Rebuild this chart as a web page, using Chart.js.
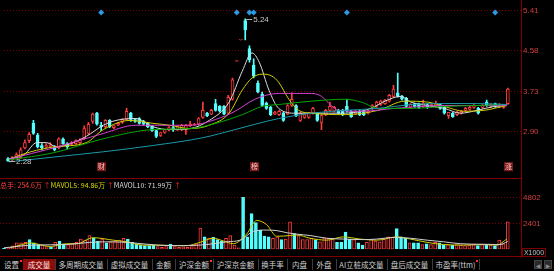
<!DOCTYPE html>
<html>
<head>
<meta charset="utf-8">
<script src="https://cdn.jsdelivr.net/npm/chart.js@4.4.1/dist/chart.umd.min.js"></script>
<style>
  html, body { margin: 0; padding: 0; background: #000; }
  body { width: 554px; height: 271px; position: relative; overflow: hidden; font-family: "Noto Sans CJK SC", "Liberation Sans", sans-serif; }
  canvas { position: absolute; left: 0; }
  .line { position: absolute; background: #800000; }
  #volHead { position: absolute; left: 0; top: 180px; font-size: 7px; line-height: 10px; white-space: nowrap; }
  #tabs { position: absolute; left: 0; top: 258px; width: 554px; height: 13px; background: #000; }
  .tab { position: absolute; top: 0; height: 13px; line-height: 13px; font-size: 7.5px; color: #d2d2d2; text-align: center; white-space: nowrap; }
  .tab.on { background: #8c0c0c; color: #ffe0e0; top: 1px; height: 11px; line-height: 11px; }
  .sep { position: absolute; top: 1px; width: 1px; height: 11px; background: #3c3c3c; }
  .dot { position: absolute; top: 2px; width: 2px; height: 2px; background: #ff3030; }
  .btn { position: absolute; top: 2px; width: 8px; height: 9px; background: #2a2a2a; border: 1px solid #444; color: #888; font: 6px "DejaVu Sans"; line-height: 9px; text-align: center; box-sizing: border-box; }
  #unit { position: absolute; left: 522px; top: 248px; width: 24px; height: 9px; border: 1px solid #800000; box-sizing: border-box; color: #c0c0c0; font: 7px "Liberation Sans"; line-height: 7px; text-align: center; }
</style>
</head>
<body>
<canvas id="priceChart" width="554" height="178" style="top:0"></canvas>
<canvas id="volChart" width="554" height="76" style="top:180px"></canvas>
<div class="line" style="left:0;top:178px;width:522px;height:1px"></div>
<div class="line" style="left:0;top:256px;width:522px;height:1px"></div>
<div class="line" style="left:521px;top:0;width:1px;height:258px"></div>
<div id="volHead"></div>
<div id="unit">X1000</div>
<div id="tabs"></div>
<script>
// daily candles, price in yuan
const open = [2.34,2.31,2.34,2.36,2.56,2.71,3.07,2.82,2.61,2.58, 2.59,2.59,2.56,2.75,2.65,2.63,2.65,2.67,2.75,2.86,
  3.11,3.28,3.03,3.00,3.13,2.98,3.03,3.09,3.15,3.28, 3.15,3.17,3.11,3.07,3.02,2.92,2.82,2.88,2.94,2.98,
  2.94,2.94,2.94,3.02,3.03,3.05,3.19,3.28,3.26,3.48, 3.42,3.42,3.28,3.57,4.36,4.80,5.20,4.62,4.28,3.90,
  3.67,3.49,3.40,3.26,3.25,3.28,3.26,3.44,3.44,3.13, 3.19,3.19,3.28,3.28,3.09,3.25,3.34,3.32,3.34,3.34,
  3.42,3.32,3.26,3.32,3.32,3.28,3.38,3.42,3.46,3.48, 3.53,3.63,3.70,3.63,3.59,3.40,3.48,3.48,3.42,3.46,
  3.42,3.42,3.46,3.40,3.23,3.28,3.25,3.28,3.34,3.36, 3.40,3.38,3.40,3.51,3.42,3.48,3.42,3.40,3.48];
const high = [2.36,2.38,2.46,2.56,2.73,2.88,3.13,2.86,2.65,2.65, 2.67,2.61,2.77,2.77,2.67,2.69,2.73,2.75,3.02,3.09,
  3.28,3.30,3.09,3.15,3.15,3.03,3.09,3.17,3.38,3.30, 3.17,3.19,3.13,3.09,3.03,2.94,2.88,2.94,3.00,3.13,
  3.02,3.05,3.05,3.11,3.07,3.19,3.51,3.30,3.36,3.57, 3.44,3.44,3.65,4.01,4.37,4.81,5.24,4.68,4.41,3.95,
  3.72,3.51,3.42,3.32,3.34,3.30,3.46,3.70,3.46,3.30, 3.26,3.30,3.40,3.30,3.25,3.36,3.51,3.42,3.36,3.36,
  3.57,3.34,3.34,3.34,3.34,3.34,3.46,3.53,3.55,3.57, 3.67,3.86,4.11,3.65,3.61,3.48,3.49,3.49,3.55,3.48,
  3.48,3.53,3.48,3.42,3.30,3.30,3.32,3.34,3.40,3.42, 3.46,3.40,3.46,3.55,3.48,3.49,3.48,3.46,3.80];
const low = [2.28,2.29,2.33,2.34,2.54,2.67,2.84,2.56,2.52,2.56, 2.58,2.50,2.54,2.63,2.54,2.61,2.63,2.65,2.73,2.84,
  3.07,3.03,2.92,2.98,2.98,2.96,3.02,3.07,3.13,3.11, 3.09,3.05,3.03,2.98,2.90,2.77,2.80,2.86,2.92,2.90,
  2.92,2.92,2.84,3.00,3.02,3.03,3.17,3.21,3.25,3.32, 3.30,3.25,3.26,3.55,4.36,4.80,4.80,4.34,4.01,3.70,
  3.42,3.36,3.23,3.25,3.23,3.11,3.25,3.42,3.21,3.11, 3.17,3.17,3.26,3.11,2.94,3.23,3.32,3.30,3.26,3.23,
  3.30,3.19,3.25,3.23,3.23,3.26,3.36,3.40,3.44,3.46, 3.51,3.61,3.61,3.55,3.40,3.38,3.40,3.38,3.40,3.38,
  3.40,3.40,3.36,3.26,3.17,3.19,3.23,3.26,3.32,3.34, 3.38,3.26,3.38,3.42,3.40,3.40,3.40,3.38,3.46];
const close = [2.29,2.36,2.42,2.52,2.67,2.84,2.86,2.58,2.56,2.61, 2.63,2.52,2.75,2.65,2.58,2.67,2.71,2.73,2.96,3.05,
  3.26,3.05,3.00,3.13,3.00,3.02,3.07,3.15,3.32,3.15, 3.11,3.07,3.05,3.00,2.92,2.80,2.88,2.94,2.98,2.94,
  3.00,3.03,3.03,3.05,3.05,3.17,3.34,3.23,3.34,3.34, 3.32,3.26,3.61,3.97,4.37,4.81,5.01,4.39,4.05,3.72,
  3.44,3.38,3.25,3.30,3.32,3.13,3.44,3.57,3.23,3.28, 3.25,3.28,3.38,3.13,3.23,3.34,3.42,3.40,3.28,3.25,
  3.32,3.21,3.32,3.25,3.25,3.32,3.44,3.51,3.53,3.55, 3.65,3.78,3.63,3.57,3.42,3.46,3.42,3.40,3.49,3.40,
  3.46,3.48,3.38,3.28,3.30,3.21,3.30,3.32,3.38,3.40, 3.44,3.28,3.44,3.44,3.46,3.42,3.46,3.44,3.78];
// volume, x1000 hands
const volume = [76,127,305,584,584,635,889,584,432,381, 254,203,635,762,483,432,508,635,940,838,
  1270,1067,762,940,584,686,762,838,1016,940, 635,457,381,330,330,381,254,178,254,483,
  254,178,229,178,254,508,1956,1143,1016,1092, 889,762,1016,1270,381,127,4826,1143,3302,2464,
  1778,1219,1143,1016,1143,889,940,2540,1448,1270, 889,889,1016,889,686,1067,1016,965,635,635,
  1600,940,889,584,381,635,889,762,686,940, 1143,1092,1905,1143,1016,584,584,584,432,508,
  432,635,584,432,432,381,432,381,330,381, 432,330,432,432,381,330,838,508,2546];

// moving averages (x = candle index)
const ma5X = [0.2,3.8,6.8,9.1,11.5,14.8,18.5,22.5,25.5,30.2,34.2,38.2,42.9,47.5,52.2,55.3,57.6,59.3,61.6,63.9,67.9,71.7,79.6,85.7,89.0,92.7,95.1,99.1,103.0,106.8,110.8,114.8,117.8];
const ma5 = [2.33,2.42,2.67,2.67,2.58,2.65,2.80,3.03,3.13,3.17,3.00,2.94,2.96,3.13,3.51,4.15,4.53,4.34,3.76,3.38,3.28,3.28,3.28,3.38,3.53,3.63,3.51,3.44,3.38,3.28,3.34,3.42,3.44];
const ma10X = [0.2,5.4,10.8,18.5,22.5,28.8,34.2,38.2,42.9,47.5,52.2,55.3,57.6,60.0,62.3,63.9,66.3,68.6,71.7,79.6,87.4,93.7,99.1,103.0,107.7,112.4,117.8];
const ma10 = [2.33,2.48,2.58,2.67,2.94,3.13,3.07,3.03,2.96,3.03,3.28,3.76,4.01,4.09,4.05,3.92,3.57,3.34,3.28,3.25,3.34,3.53,3.51,3.42,3.32,3.34,3.44];
const ma20X = [0.2,10.8,22.5,30.2,38.2,42.9,49.0,53.6,58.3,63.9,71.7,74.0,76.3,78.0,83.4,91.3,103.0,110.8,117.8];
const ma20 = [2.33,2.56,2.86,3.03,3.03,3.03,3.15,3.32,3.57,3.69,3.69,3.63,3.44,3.34,3.32,3.38,3.44,3.44,3.44];
const ma30X = [0.2,10.8,22.5,34.2,42.9,49.9,55.3,60.0,63.9,71.7,79.6,83.4,87.4,95.1,103.0,110.8,117.8];
const ma30 = [2.31,2.46,2.75,2.94,2.96,3.09,3.25,3.42,3.46,3.53,3.57,3.51,3.38,3.38,3.42,3.44,3.46];
const ma60X = [0.2,10.8,22.5,34.2,45.9,53.6,58.3,63.9,71.7,79.6,87.4,95.1,103.0,110.8,117.8];
const ma60 = [2.27,2.37,2.48,2.61,2.77,2.94,3.05,3.17,3.28,3.34,3.38,3.46,3.48,3.48,3.46];
const mavol5X = [1.4,3.8,6.1,10.8,14.7,17.0,20.9,25.6,28.7,32.6,35.8,39.7,42.8,45.9,49.0,51.4,53.7,56.8,59.2,61.5,63.9,67.1,68.6,71.7,75.6,79.5,83.4,87.3,92.0,95.2,99.1,103.0,107.6,112.3,115.4,117.8];
const mavol5 = [127,381,584,254,508,508,1067,838,686,381,381,330,330,635,1016,762,508,1397,2667,2286,1200,1270,1321,1016,838,1143,940,838,1143,940,635,432,381,432,381,949];
const mavol10X = [0,6.9,14.7,20.1,24.8,30.3,35.8,42.0,47.5,52.2,55.3,58.4,61.5,63.9,66.3,68.6,71.7,75.6,79.5,84.2,87.3,91.3,95.2,99.1,103.0,106.9,112.3,116.2,118];
const mavol10 = [127,381,432,635,686,584,381,330,432,686,838,1651,1778,1727,1524,1397,1270,1016,940,889,940,1092,1016,838,686,508,457,432,720];

// axis ticks and scale ranges
const priceTicks = [2.90, 3.73, 4.58, 5.41];
const priceMin = 2.077, priceMax = 5.487;
const volTicks = [2401, 4802];
const volMax = 5793;
const xMin = -0.94, xMax = 121.1;

// event markers and notes
const eventIdx = [22, 54, 57, 58, 80, 115];
const eventLevel = 5.37;
const noteIdx = [22, 58, 118];
const noteText = ['财', '榜', '涨'];

const volHead = [['总手: 254.6万 ', '#ff4040'], ['↑', '#ff3030'], ['MAVOL5: 94.86万 ', '#d8d800'],
  ['↑', '#ff3030'], ['MAVOL10: 71.99万 ', '#d8d8d8'], ['↑', '#ff3030']];
const tabNames = ['设置','成交量','多周期成交量','虚拟成交量','金额','沪深金额','沪深京金额','换手率','内盘','外盘','AI立桩成交量','盘后成交量','市盈率(ttm)'];
const tabEdges = [0, 23, 55, 107, 152, 175, 213, 258, 287, 312, 336, 387, 432, 479];
const tabDots = [0, 5, 12];

const RED = '#ff3c3c', CYAN = '#54ffff';
const up = open.map((o, i) => close[i] >= o);
const edgeColor = c => up[c.dataIndex] ? RED : CYAN;
const fillColor = c => up[c.dataIndex] ? '#000' : CYAN;
const pts = (xs, ys) => xs.map((x, k) => ({ x, y: ys[k] }));

Chart.defaults.font.family = 'Liberation Sans';
Chart.defaults.animation = false;

function maLine(data, color) {
  return { type: 'line', data, borderColor: color, borderWidth: 1, pointRadius: 0,
    cubicInterpolationMode: 'monotone', order: 1 };
}

function rightAxis(min, max, ticks, fmt) {
  return {
    position: 'right', min, max,
    afterFit(s) { s.width = 33; },
    afterBuildTicks(s) { s.ticks = ticks.map(v => ({ value: v })); },
    ticks: { color: '#d04040', font: { size: 8 }, padding: 2, callback: fmt },
    grid: { color: '#7a0000', lineWidth: 1, drawTicks: false },
    border: { display: false, dash: [1, 2] }
  };
}

const marks = {
  id: 'marks',
  afterDatasetsDraw(chart) {
    const { ctx, chartArea, scales: { x, y } } = chart;
    let hi = 0, lo = 0;
    high.forEach((h, i) => { if (h > high[hi]) hi = i; });
    low.forEach((l, i) => { if (l < low[lo]) lo = i; });
    ctx.save();
    ctx.font = '8px "Liberation Sans"';
    ctx.textBaseline = 'middle';
    [[hi, high[hi]], [lo, low[lo]]].forEach(([i, v]) => {
      const px = x.getPixelForValue(i), py = Math.round(y.getPixelForValue(v)) + 0.5;
      ctx.strokeStyle = '#b0b0b0';
      ctx.lineWidth = 1;
      ctx.beginPath(); ctx.moveTo(px + 1, py); ctx.lineTo(px + 7, py); ctx.stroke();
      ctx.fillStyle = '#c8c8c8';
      ctx.fillText(v.toFixed(2), px + 8, py);
    });
    ctx.font = '7px "Noto Sans CJK SC"';
    ctx.textAlign = 'center';
    noteIdx.forEach((i, k) => {
      const px = Math.round(x.getPixelForValue(i));
      ctx.fillStyle = '#7a1818';
      ctx.fillRect(px - 4, chartArea.bottom - 9, 9, 9);
      ctx.fillStyle = '#ffc8c8';
      ctx.fillText(noteText[k], px + 0.5, chartArea.bottom - 4.5);
    });
    ctx.restore();
  }
};

new Chart(document.getElementById('priceChart'), {
  type: 'bar',
  data: {
    datasets: [
      { data: high.map((h, i) => ({ x: i, y: [low[i], h] })), backgroundColor: edgeColor,
        grouped: false, barThickness: 1, order: 3 },
      { data: open.map((o, i) => ({ x: i, y: [o, close[i]] })), backgroundColor: fillColor,
        borderColor: edgeColor, borderWidth: 1, borderSkipped: false, grouped: false, barThickness: 3, order: 2 },
      maLine(pts(ma60X, ma60), '#1a98a8'),
      maLine(pts(ma30X, ma30), '#00a800'),
      maLine(pts(ma20X, ma20), '#d040d0'),
      maLine(pts(ma10X, ma10), '#d0d000'),
      maLine(pts(ma5X, ma5), '#dcdcdc'),
      { type: 'line', data: eventIdx.map(i => ({ x: i, y: eventLevel })), showLine: false,
        pointStyle: 'rectRot', pointRadius: 3, backgroundColor: '#2b9be0', borderWidth: 0, order: 0 }
    ]
  },
  options: {
    responsive: false, devicePixelRatio: 1,
    layout: { padding: 0 },
    plugins: { legend: { display: false }, tooltip: { enabled: false } },
    scales: {
      x: { type: 'linear', min: xMin, max: xMax, offset: false, display: false },
      y: rightAxis(priceMin, priceMax, priceTicks, v => v.toFixed(2))
    }
  },
  plugins: [marks]
});

new Chart(document.getElementById('volChart'), {
  type: 'bar',
  data: {
    datasets: [
      { data: volume.map((v, i) => ({ x: i, y: v })), backgroundColor: fillColor,
        borderColor: edgeColor, borderWidth: 1, borderSkipped: false, grouped: false, barThickness: 3, order: 2 },
      maLine(pts(mavol10X, mavol10), '#d0d0d0'),
      maLine(pts(mavol5X, mavol5), '#d0d000')
    ]
  },
  options: {
    responsive: false, devicePixelRatio: 1,
    layout: { padding: 0 },
    plugins: { legend: { display: false }, tooltip: { enabled: false } },
    scales: {
      x: { type: 'linear', min: xMin, max: xMax, offset: false, display: false },
      y: rightAxis(0, volMax, volTicks, v => String(v))
    }
  }
});

const head = document.getElementById('volHead');
volHead.forEach(([t, c]) => {
  const s = document.createElement('span');
  s.textContent = t;
  s.style.color = c;
  head.appendChild(s);
});

const tabs = document.getElementById('tabs');
tabNames.forEach((name, k) => {
  const d = document.createElement('div');
  d.className = 'tab' + (k === 1 ? ' on' : '');
  d.style.left = tabEdges[k] + 'px';
  d.style.width = (tabEdges[k + 1] - tabEdges[k]) + 'px';
  d.textContent = name;
  tabs.appendChild(d);
  const sep = document.createElement('div');
  sep.className = 'sep';
  sep.style.left = tabEdges[k + 1] + 'px';
  tabs.appendChild(sep);
  if (tabDots.includes(k)) {
    const dot = document.createElement('div');
    dot.className = 'dot';
    dot.style.left = (tabEdges[k + 1] - 3) + 'px';
    tabs.appendChild(dot);
  }
});
['◀', '▶'].forEach((t, k) => {
  const b = document.createElement('div');
  b.className = 'btn';
  b.style.left = (534 + k * 10) + 'px';
  b.textContent = t;
  tabs.appendChild(b);
});
</script>
</body>
</html>
